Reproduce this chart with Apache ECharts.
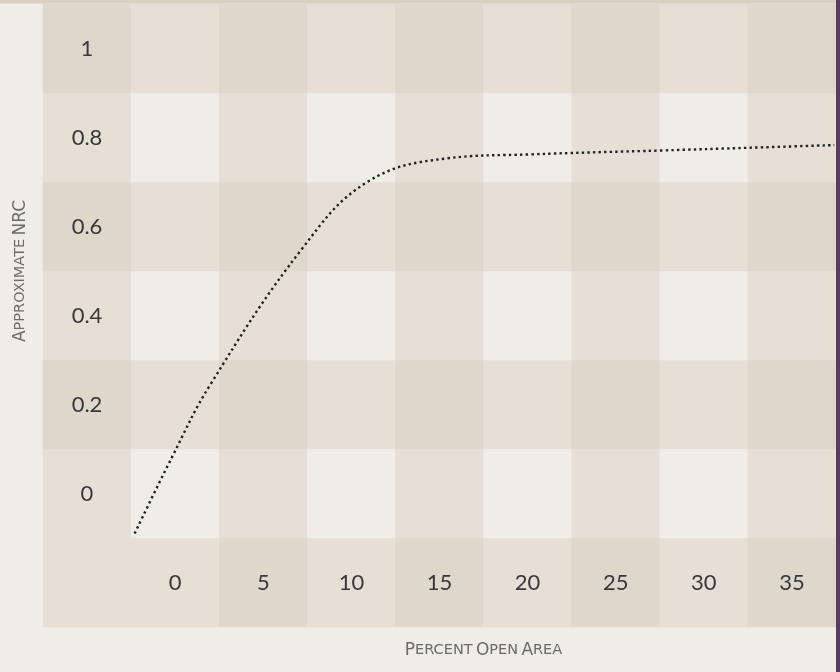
<!DOCTYPE html>
<html>
<head>
<meta charset="utf-8">
<script src="https://cdn.jsdelivr.net/npm/echarts@6/dist/echarts.min.js"></script>
<style>
  html, body { margin: 0; padding: 0; background: #f0ede6; }
  #chart { width: 840px; height: 672px; }
</style>
</head>
<body>
<div id="chart"></div>
<script>
// tick labels (first band of each axis is the label gutter)
const xCategories = ['', '0', '5', '10', '15', '20', '25', '30', '35'];
const yCategories = ['', '0', '0.2', '0.4', '0.6', '0.8', '1'];

// curve
const openArea = [0.2, 2.3, 4.5, 9.7, 13.4, 17.9, 22.6, 30.2, 35.1, 39.9];
const nrc = [0.01, 0.18, 0.345, 0.65, 0.8, 0.853, 0.862, 0.871, 0.877, 0.883];

// gingham background: light / medium / dark
const checkColors = ['#f0ede6', '#e6dfd6', '#ded7cb'];

const cells = [];
xCategories.forEach((_, xi) => {
  yCategories.forEach((_, yi) => {
    let level = (xi % 2 === 0 ? 1 : 0) + (yi % 2 === 0 ? 1 : 0);
    if (xi === 0 && yi === 0) level = 1; // corner is lighter in the original
    cells.push({ value: [xi, yi, level], itemStyle: { color: checkColors[level] } });
  });
});

const tickFont = { fontFamily: 'Lato', fontSize: 22, color: '#383838' };
const nameRich = {
  b: { fontFamily: 'DejaVu Sans', fontSize: 17, color: '#6f6a64' },
  s: { fontFamily: 'DejaVu Sans', fontSize: 14.5, color: '#6f6a64' }
};

const chart = echarts.init(document.getElementById('chart'));
chart.setOption({
  backgroundColor: '#f0ede6',
  animation: false,
  graphic: [
    { type: 'rect', left: 0, top: 0, shape: { width: 840, height: 3.5 }, style: { fill: '#d8d0c3' }, z: 10 },
    { type: 'rect', right: 0, top: 0, shape: { width: 4, height: 672 }, style: { fill: '#5b3b5f' }, z: 10 }
  ],
  grid: { left: 43, right: 4, top: 4, bottom: 45 },
  xAxis: [{
    type: 'category',
    data: xCategories,
    boundaryGap: true,
    axisLine: { show: false },
    axisTick: { show: false },
    splitLine: { show: false },
    axisLabel: Object.assign({ inside: true, interval: 0, margin: 44, verticalAlign: 'middle' }, tickFont),
    name: '{b|P}{s|ERCENT} {b|O}{s|PEN} {b|A}{s|REA}',
    nameLocation: 'middle',
    nameGap: 15,
    nameTextStyle: { rich: nameRich, padding: [0, 0, 0, 88] },
    z: 5
  }, {
    type: 'value', min: -5, max: 40, show: false
  }],
  yAxis: [{
    type: 'category',
    data: yCategories,
    boundaryGap: true,
    axisLine: { show: false },
    axisTick: { show: false },
    splitLine: { show: false },
    axisLabel: Object.assign({ inside: true, interval: 0, margin: 44, align: 'center' }, tickFont),
    name: '{b|A}{s|PPROXIMATE} {b|NRC}',
    nameLocation: 'middle',
    nameGap: 14,
    nameTextStyle: { rich: nameRich, padding: [0, 0, 0, 89] },
    z: 5
  }, {
    type: 'value', min: -0.2, max: 1.2, show: false
  }],
  series: [{
    type: 'heatmap',
    data: cells,
    silent: true,
    z: 0
  }, {
    type: 'line',
    xAxisIndex: 1,
    yAxisIndex: 1,
    data: openArea.map((x, i) => [x, nrc[i]]),
    smooth: 0.4,
    showSymbol: false,
    lineStyle: { color: '#222', width: 2.4, type: [2.4, 3.2] },
    z: 3
  }]
});
</script>
</body>
</html>
